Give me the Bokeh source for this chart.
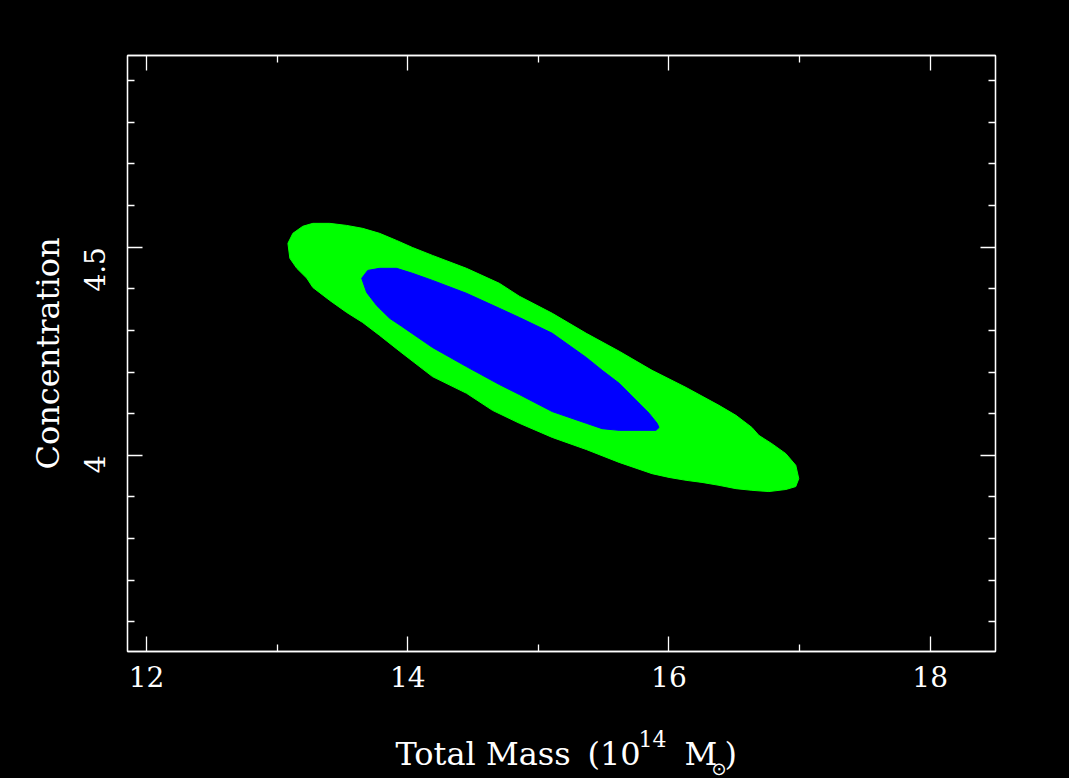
import math
from bokeh.plotting import figure
from bokeh.models import Range1d, FixedTicker, LinearAxis, CustomJSTickFormatter
from bokeh.core.properties import value
from bokeh.embed import file_html
from bokeh.resources import INLINE

# ---- data (mass in 1e14 Msun, concentration) ----
green_mass = [13.083, 13.121, 13.197, 13.274, 13.403, 13.533, 13.655, 13.785, 13.915, 14.037,
              14.190, 14.450, 14.702, 14.855, 15.107, 15.367, 15.619, 15.871, 16.131, 16.383,
              16.513, 16.635, 16.688, 16.788, 16.895, 16.971, 16.994, 16.971, 16.895, 16.765,
              16.635, 16.513, 16.383, 16.253, 16.131, 16.001, 15.871, 15.619, 15.367, 15.107,
              14.855, 14.649, 14.450, 14.190, 13.938, 13.785, 13.655, 13.533, 13.403, 13.274,
              13.228, 13.151, 13.098]
green_conc = [4.509, 4.533, 4.550, 4.557, 4.557, 4.552, 4.545, 4.533, 4.516, 4.499,
              4.480, 4.449, 4.413, 4.382, 4.341, 4.293, 4.250, 4.204, 4.163, 4.120,
              4.096, 4.067, 4.048, 4.028, 4.004, 3.976, 3.944, 3.925, 3.918, 3.913,
              3.916, 3.920, 3.928, 3.935, 3.940, 3.947, 3.956, 3.983, 4.014, 4.043,
              4.077, 4.108, 4.149, 4.189, 4.250, 4.288, 4.319, 4.343, 4.372, 4.403,
              4.425, 4.449, 4.473]

blue_mass = [13.648, 13.694, 13.785, 13.915, 14.037, 14.190, 14.450, 14.702, 14.855, 15.107,
             15.367, 15.489, 15.619, 15.749, 15.848, 15.909, 15.924, 15.901, 15.619, 15.489,
             15.367, 15.107, 14.855, 14.702, 14.450, 14.190, 13.953, 13.862, 13.762, 13.686]
blue_conc = [4.425, 4.444, 4.449, 4.449, 4.437, 4.420, 4.389, 4.353, 4.331, 4.293,
             4.235, 4.204, 4.173, 4.132, 4.101, 4.077, 4.067, 4.060, 4.060, 4.064,
             4.077, 4.105, 4.146, 4.170, 4.213, 4.259, 4.310, 4.329, 4.360, 4.391]

x_major_ticks = [12, 14, 16, 18]
x_minor_ticks = [13, 15, 17]
y_major_ticks = [4, 4.5]
y_minor_ticks = [3.6, 3.7, 3.8, 3.9, 4.1, 4.2, 4.3, 4.4, 4.6, 4.7, 4.8, 4.9]
y_tick_labels = {4: "4", 4.5: "4.5"}

# x-axis title pieces: main text, superscript exponent, subscript sun symbol
x_title_main = ["Total Mass", "(10", "M", ")"]
x_title_sup = ["14"]
x_title_sub = ["\u2299"]
y_title = "Concentration"

FONT = "DejaVu Serif"
WHITE = "#ffffff"

p = figure(width=1069, height=778, output_backend="svg", toolbar_location=None,
           x_range=Range1d(11.855, 18.5), y_range=Range1d(3.529, 4.960),
           x_axis_location=None, y_axis_location=None,
           min_border_left=127, min_border_right=74, min_border_top=55, min_border_bottom=127,
           background_fill_color="black", border_fill_color="black",
           outline_line_color=WHITE, outline_line_width=1.3)
p.grid.visible = False

p.patch(green_mass, green_conc, fill_color="#00ff00", line_color="#00ff00", line_width=1)
p.patch(blue_mass, blue_conc, fill_color="#0000ff", line_color="#0000ff", line_width=1)


def style(ax, labels=True):
    ax.axis_line_color = WHITE
    ax.axis_line_width = 1.3
    ax.major_tick_line_color = WHITE
    ax.minor_tick_line_color = WHITE
    ax.major_tick_line_width = 1.3
    ax.minor_tick_line_width = 1.3
    ax.major_tick_in = 15
    ax.major_tick_out = 0
    ax.minor_tick_in = 7
    ax.minor_tick_out = 0
    ax.major_label_text_color = WHITE
    ax.major_label_text_font = FONT
    ax.major_label_text_font_size = "28px"
    ax.axis_label_text_color = WHITE
    ax.axis_label_text_font = FONT
    ax.axis_label_text_font_size = "32px"
    ax.axis_label_text_font_style = "normal"
    if not labels:
        ax.formatter = CustomJSTickFormatter(code="return ''")
        ax.major_label_standoff = 0


xticker = FixedTicker(ticks=x_major_ticks, minor_ticks=x_minor_ticks)
yticker = FixedTicker(ticks=y_major_ticks, minor_ticks=y_minor_ticks)

bottom = LinearAxis(ticker=xticker)
style(bottom)
bottom.major_label_standoff = 14
p.add_layout(bottom, "below")

top = LinearAxis(ticker=xticker)
style(top, labels=False)
p.add_layout(top, "above")

left = LinearAxis(ticker=yticker, axis_label=y_title)
style(left)
left.major_label_overrides = y_tick_labels
left.major_label_orientation = math.pi / 2
left.major_label_standoff = 33
left.axis_label_standoff = 4
p.add_layout(left, "left")

right = LinearAxis(ticker=yticker)
style(right, labels=False)
p.add_layout(right, "right")

# x-axis title, drawn at overlay level so it is not clipped to the frame
p.text(x=[13.9066, 15.3764, 16.1190, 16.4252], y=[3.2817] * 4, text=x_title_main,
       text_color=WHITE, text_font=value(FONT), text_font_size="32px",
       text_align="left", text_baseline="alphabetic", level="overlay")
p.text(x=[15.7668], y=[3.3201], text=x_title_sup,
       text_color=WHITE, text_font=value(FONT), text_font_size="22px",
       text_align="left", text_baseline="alphabetic", level="overlay")
p.text(x=[16.3831], y=[3.2469], text=x_title_sub,
       text_color=WHITE, text_font=value("DejaVu Sans"), text_font_size="18px",
       text_align="center", text_baseline="middle", level="overlay")

html = file_html(p, INLINE)
html = html.replace("<head>", "<head><style>html,body{background:#000000;}</style>", 1)
open("out.html", "w").write(html)
